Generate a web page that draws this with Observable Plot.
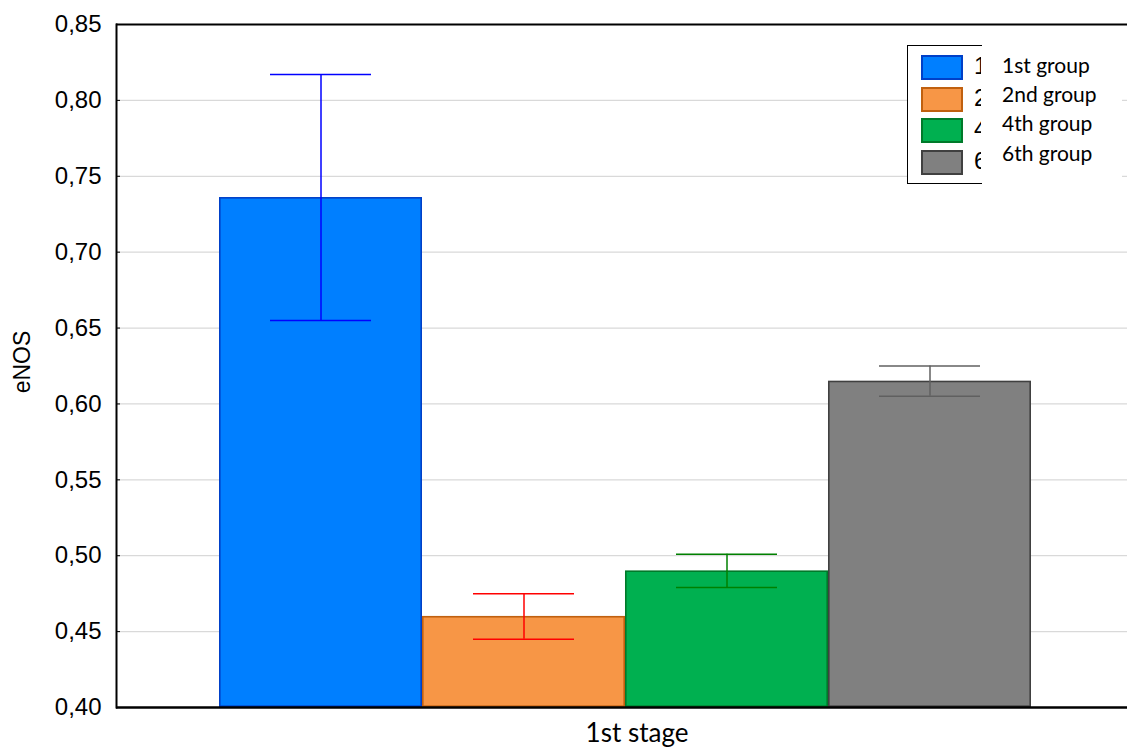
<!DOCTYPE html>
<html>
<head>
<meta charset="utf-8">
<script src="https://cdn.jsdelivr.net/npm/d3@7"></script>
<script src="https://cdn.jsdelivr.net/npm/@observablehq/plot@0.6"></script>
<style>
  body { margin: 0; background: #fff; }
  #wrap { position: relative; width: 1127px; height: 751px; overflow: hidden; }
  #legend-box { position: absolute; left: 907px; top: 45px; width: 74px; height: 137px;
    border: 1.5px solid #000; border-right: none; background: #fff; overflow: hidden; }
  .sw { position: absolute; left: 13px; width: 38px; height: 21px; border: 2px solid; }
  .digit { position: absolute; left: 66px; font: 24px "Liberation Sans", Arial, sans-serif; color: #000; }
  #legend-text { position: absolute; left: 981px; top: 47px; width: 141px; height: 133px; background: #fff; }
  .lab { position: absolute; left: 21px; font: 21px Lato, "Open Sans", sans-serif; color: #000; white-space: nowrap; }
</style>
</head>
<body>
<div id="wrap"></div>
<script>
// eNOS, 1st stage, by group: means with upper/lower error limits
const groups = ["1st group", "2nd group", "4th group", "6th group"];
const means  = [0.736, 0.460, 0.490, 0.615];
const upper  = [0.817, 0.475, 0.501, 0.625];
const lower  = [0.655, 0.445, 0.479, 0.605];
const fills   = ["#007FFF", "#F79646", "#00B050", "#808080"];
const strokes = ["#0040C8", "#C0600F", "#007A2A", "#404040"];
const whisker = ["#0000FF", "#FF0000", "#008000", "#606060"];
const yTicks = [0.40, 0.45, 0.50, 0.55, 0.60, 0.65, 0.70, 0.75, 0.80, 0.85];
const xTitle = "1st stage";
const yTitle = "eNOS";

const rows = groups.map((g, i) => ({group: g, mean: means[i], hi: upper[i], lo: lower[i]}));
const yMin = yTicks[0], yMax = yTicks[yTicks.length - 1];
const fmt = v => d3.format(".2f")(v).replace(".", ",");

const chart = Plot.plot({
  width: 1127,
  height: 751,
  marginLeft: 116,
  marginRight: 0,
  marginTop: 24,
  marginBottom: 44,
  style: {background: "#fff"},
  x: {type: "band", domain: groups, range: [218, 1032], padding: 0, axis: null},
  y: {domain: [yMin, yMax], ticks: yTicks},
  color: {domain: groups, range: fills},
  marks: [
    Plot.gridY(yTicks.slice(1, -1), {stroke: "#d9d9d9", strokeOpacity: 1, strokeWidth: 1.2}),
    Plot.barY(rows, {
      x: "group", y1: () => yMin, y2: "mean",
      fill: "group",
      stroke: (d, i) => strokes[i],
      strokeWidth: 1.6, inset: 0.8
    }),
    Plot.ruleX(rows, {x: "group", y1: "lo", y2: "hi", stroke: (d, i) => whisker[i], strokeWidth: 1.5}),
    Plot.tickY(rows, {x: "group", y: "hi", stroke: (d, i) => whisker[i], strokeWidth: 1.5, insetLeft: 51, insetRight: 51}),
    Plot.tickY(rows, {x: "group", y: "lo", stroke: (d, i) => whisker[i], strokeWidth: 1.5, insetLeft: 51, insetRight: 51}),
    Plot.ruleY([yMax], {stroke: "#000", strokeWidth: 2}),
    Plot.ruleY([yMin], {stroke: "#000", strokeWidth: 2.5}),
    Plot.frame({anchor: "left", stroke: "#000", strokeWidth: 2}),
    Plot.axisY(yTicks, {
      tickSize: 0, tickPadding: 15, tickFormat: fmt,
      fontSize: 24, fill: "#000", label: null,
      fontFamily: "Liberation Sans, Arial, sans-serif"
    }),
    Plot.axisY(yTicks, {tickSize: 4, dx: 4, text: null, label: null, stroke: "#000"}),
    Plot.text([yTitle], {
      frameAnchor: "left", dx: -94, dy: -4, rotate: -90, textAnchor: "middle",
      fontSize: 23, fill: "#000", fontFamily: "Liberation Sans, Arial, sans-serif"
    }),
    Plot.text([xTitle], {
      frameAnchor: "bottom", dx: 15, dy: 34,
      fontSize: 26, fill: "#000", fontFamily: "Lato, Open Sans, sans-serif"
    })
  ]
});

const wrap = document.getElementById("wrap");
wrap.appendChild(chart);

// Legend: swatch box with a white label panel laid over its right side
const box = document.createElement("div");
box.id = "legend-box";
const swTops = [9, 41, 72, 104];
groups.forEach((g, i) => {
  const sw = document.createElement("div");
  sw.className = "sw";
  sw.style.top = swTops[i] + "px";
  sw.style.background = fills[i];
  sw.style.borderColor = strokes[i];
  box.appendChild(sw);
  const dg = document.createElement("div");
  dg.className = "digit";
  dg.style.top = (swTops[i] - 3) + "px";
  dg.textContent = g.charAt(0);
  box.appendChild(dg);
});
wrap.appendChild(box);

const panel = document.createElement("div");
panel.id = "legend-text";
const labTops = [5, 34, 63, 93];
groups.forEach((g, i) => {
  const lb = document.createElement("div");
  lb.className = "lab";
  lb.style.top = labTops[i] + "px";
  lb.textContent = g;
  panel.appendChild(lb);
});
wrap.appendChild(panel);
</script>
</body>
</html>
